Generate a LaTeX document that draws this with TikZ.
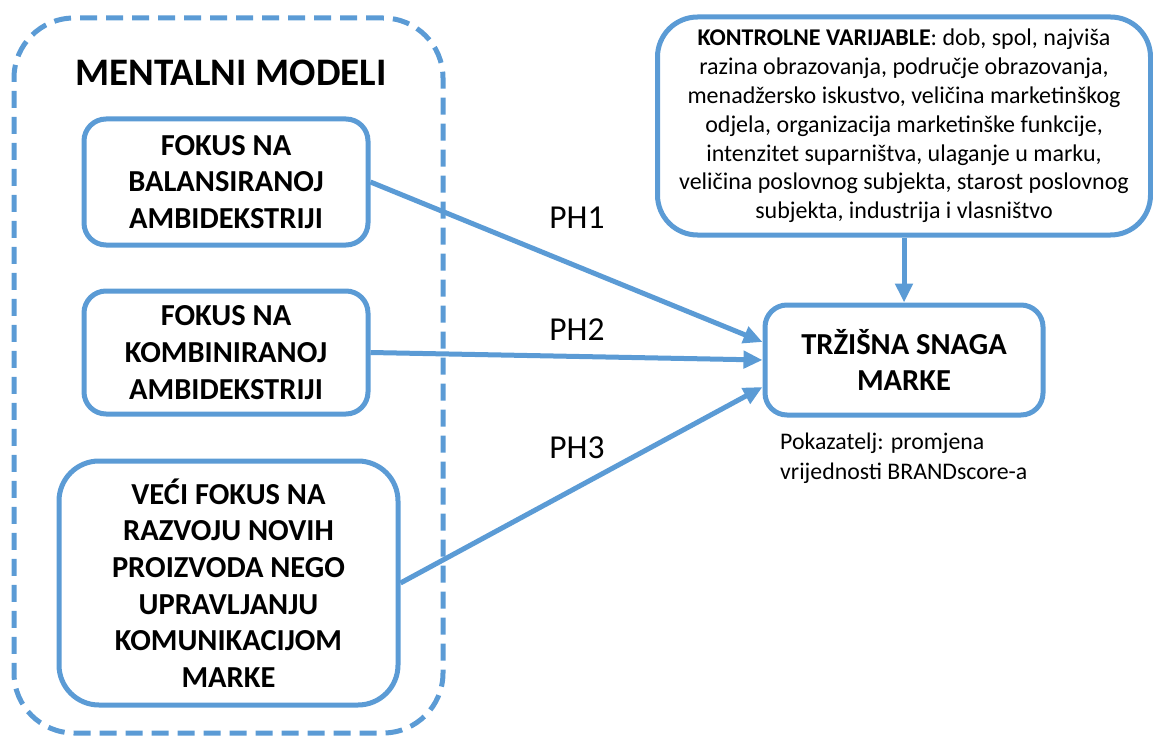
\documentclass[tikz,border=0pt]{standalone}
\usepackage{fontspec}
\setmainfont{Carlito}
\usetikzlibrary{arrows.meta}
\definecolor{obl}{HTML}{5B9BD5}
\begin{document}
\begin{tikzpicture}[x=1pt,y=-1pt,
  box/.style={draw=obl, line width=5pt, fill=white, align=center, inner sep=0pt,
    font=\fontsize{30.5}{36.7}\selectfont\bfseries},
  conn/.style={draw=obl, line width=5pt, -{Triangle[length=19pt,width=17pt]}},
  phlab/.style={font=\fontsize{33.5}{38}\selectfont},
]
\useasboundingbox (0,0) rectangle (1153,738);
% outer dashed container
\node[draw=obl, line width=5pt, dash pattern=on 17pt off 9pt, rounded corners=60pt,
  minimum width=429pt, minimum height=715pt, inner sep=0pt] (mm) at (228.5,375.5) {};
\node[font=\fontsize{39}{44}\selectfont\bfseries] (mmt) at (231,73) {MENTALNI MODELI};
% boxes
\node[box, rounded corners=22pt, minimum width=284pt, minimum height=126pt] (b1) at (226,182)
  {FOKUS NA\\BALANSIRANOJ\\AMBIDEKSTRIJI};
\node[box, rounded corners=22pt, minimum width=284pt, minimum height=123pt] (b2) at (226,352.5)
  {FOKUS NA\\KOMBINIRANOJ\\AMBIDEKSTRIJI};
\node[box, rounded corners=40pt, minimum width=339pt, minimum height=244pt] (b3) at (228.5,583)
  {VEĆI FOKUS NA\\RAZVOJU NOVIH\\PROIZVODA NEGO\\UPRAVLJANJU\\KOMUNIKACIJOM\\MARKE};
\node[box, rounded corners=22pt, minimum width=278pt, minimum height=110pt] (t) at (904,360)
  {TRŽIŠNA SNAGA\\MARKE};
\node[draw=obl, line width=5pt, rounded corners=40pt, minimum width=493pt, minimum height=218pt,
  inner sep=0pt, align=center, font=\fontsize{24}{28.8}\selectfont] (c) at (904,126)
  {\textbf{KONTROLNE VARIJABLE}: dob, spol, najviša\\
   razina obrazovanja, područje obrazovanja,\\
   menadžersko iskustvo, veličina marketinškog\\
   odjela, organizacija marketinške funkcije,\\
   intenzitet suparništva, ulaganje u marku,\\
   veličina poslovnog subjekta, starost poslovnog\\
   subjekta, industrija i vlasništvo};
\node[anchor=north west, align=left, inner sep=0pt, font=\fontsize{23.8}{30}\selectfont] (pk) at (780,433)
  {Pokazatelj: promjena\\vrijednosti BRANDscore-a};
% connectors
\draw[conn] (b1.east) -- ([yshift=18pt]t.west);
\draw[conn] (b2.east) -- (t.west);
\draw[conn] (b3.east) -- ([yshift=-27pt]t.west);
\draw[conn] (c.south) -- (t.north);
% labels
\node[phlab] (ph1) at (577,218) {PH1};
\node[phlab] (ph2) at (577,330) {PH2};
\node[phlab] (ph3) at (577,448) {PH3};
\end{tikzpicture}
\end{document}
